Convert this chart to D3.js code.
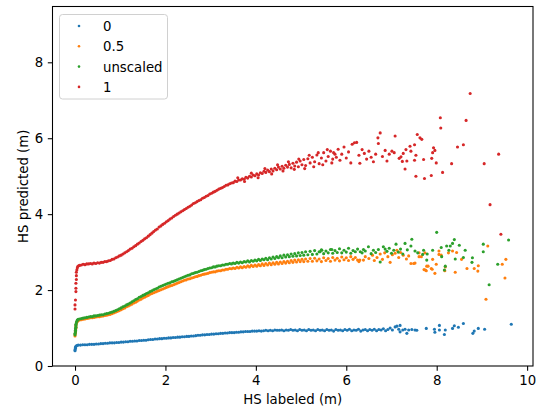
<!DOCTYPE html>
<html><head><meta charset="utf-8">
<script src="https://cdn.jsdelivr.net/npm/d3@7"></script>
<style>
html,body{margin:0;padding:0;background:#fff;}
text{font-family:"DejaVu Sans",sans-serif;}
</style></head>
<body><svg id="chart" width="543" height="408"></svg>
<script>
const seriesNames = ["0", "0.5", "unscaled", "1"];
const seriesColors = ["#1f77b4", "#ff7f0e", "#2ca02c", "#d62728"];
const xTicks = [0, 2, 4, 6, 8, 10];
const yTicks = [0, 2, 4, 6, 8];
const xLabel = "HS labeled (m)";
const yLabel = "HS predicted (m)";

const pts0 = [[0.00,0.40],[0.00,0.43],[0.01,0.46],[0.01,0.49],[0.02,0.52],[0.04,0.54],
[0.07,0.55],[0.12,0.55],[0.17,0.56],[0.22,0.56],[0.27,0.56],[0.32,0.57],[0.37,0.57],[0.42,0.57],[0.47,0.58],[0.52,0.58],[0.57,0.59],[0.62,0.59],[0.67,0.60],[0.72,0.60],[0.77,0.61],[0.82,0.61],[0.87,0.61],[0.92,0.62],[0.97,0.62],[1.02,0.63],[1.07,0.63],[1.12,0.64],[1.17,0.64],[1.22,0.65],[1.27,0.65],[1.32,0.66],[1.37,0.66],[1.42,0.67],[1.47,0.67],[1.52,0.68],[1.57,0.68],[1.62,0.69],[1.67,0.70],[1.72,0.70],[1.77,0.71],[1.82,0.71],[1.87,0.72],[1.92,0.72],[1.97,0.73],[2.02,0.73],[2.07,0.74],[2.12,0.74],[2.17,0.75],[2.22,0.75],[2.27,0.76],[2.32,0.76],[2.37,0.77],[2.42,0.77],[2.47,0.78],[2.52,0.78],[2.57,0.79],[2.62,0.79],[2.67,0.80],[2.72,0.81],[2.77,0.81],[2.82,0.82],[2.87,0.82],[2.92,0.83],[2.97,0.83],[3.02,0.84],[3.07,0.84],[3.12,0.85],[3.17,0.85],[3.22,0.86],[3.27,0.86],[3.32,0.87],[3.37,0.87],[3.42,0.88],[3.47,0.88],[3.52,0.88],[3.57,0.89],[3.62,0.89],[3.67,0.90],[3.72,0.90],[3.77,0.91],[3.82,0.91],[3.87,0.91],[3.92,0.92],[3.97,0.92],[4.02,0.92],[4.07,0.93],[4.12,0.92],[4.17,0.93],[4.22,0.94],[4.27,0.93],[4.32,0.94],[4.37,0.93],[4.42,0.95],[4.47,0.94],[4.52,0.94],[4.57,0.95],[4.62,0.93],[4.67,0.95],[4.72,0.94],[4.77,0.96],[4.82,0.94],[4.87,0.95],[4.92,0.93],[4.97,0.96],[5.02,0.94],[5.07,0.95],[5.12,0.93],[5.17,0.96],[5.22,0.94],[5.27,0.95],[5.32,0.93],[5.37,0.96],[5.42,0.94],[5.47,0.95],[5.52,0.93],[5.57,0.96],[5.62,0.94],[5.67,0.95],[5.72,0.92],[5.77,0.96],[5.82,0.94],[5.87,0.95],[5.92,0.93],[5.97,0.96],[6.02,0.94],[6.07,0.97],[6.12,0.93],[6.17,0.95],[6.22,0.94],[6.27,0.97],[6.32,0.92],[6.37,0.95],[6.42,0.96],[6.47,0.93],[6.52,0.96],[6.57,0.94],[6.62,0.97],[6.67,0.93],[6.72,0.96],[6.77,0.95],[6.82,0.98],[6.87,0.93],[6.92,0.96],[6.97,1.00],[7.02,0.95],[7.08,1.03],[7.12,1.05],[7.16,0.97],[7.19,1.07],[7.19,0.90],[7.25,0.95],[7.30,0.97],[7.34,0.86],[7.38,0.95],[7.45,0.96],[7.52,0.95],[7.56,0.94],
[7.77,0.99],[7.95,0.97],[7.96,0.89],[8.06,1.07],[8.06,0.95],[8.19,0.95],[8.17,0.83],[8.35,0.99],[8.39,1.06],[8.48,1.02],[8.59,1.12],[8.80,0.86],[8.83,0.92],[8.92,0.99],[9.06,0.97],[9.65,1.10]];

const pts05 = [[0.00,0.79],[0.00,0.83],[0.01,0.87],[0.01,0.91],[0.01,0.95],[0.02,0.99],[0.02,1.03],[0.02,1.07],[0.03,1.11],[0.04,1.15],[0.05,1.18],[0.07,1.20],
[0.10,1.21],[0.14,1.22],[0.18,1.23],[0.22,1.24],[0.26,1.25],[0.30,1.26],[0.34,1.27],[0.38,1.27],[0.42,1.28],[0.46,1.29],[0.50,1.30],[0.54,1.30],[0.58,1.31],[0.62,1.32],[0.66,1.33],[0.70,1.34],[0.74,1.35],[0.78,1.36],[0.82,1.38],[0.86,1.40],[0.90,1.42],[0.94,1.44],[0.98,1.46],[1.02,1.48],[1.06,1.51],[1.10,1.53],[1.14,1.56],[1.18,1.58],[1.22,1.61],[1.26,1.63],[1.30,1.66],[1.34,1.68],[1.38,1.71],[1.42,1.74],[1.46,1.76],[1.50,1.79],[1.54,1.81],[1.58,1.84],[1.62,1.86],[1.66,1.89],[1.70,1.91],[1.74,1.93],[1.78,1.95],[1.82,1.97],[1.86,1.99],[1.90,2.01],[1.94,2.03],[1.98,2.05],[2.02,2.07],[2.06,2.09],[2.10,2.11],[2.14,2.12],[2.18,2.14],[2.22,2.16],[2.26,2.18],[2.30,2.20],[2.34,2.22],[2.38,2.24],[2.42,2.26],[2.46,2.27],[2.50,2.29],[2.54,2.30],[2.58,2.32],[2.62,2.33],[2.66,2.35],[2.70,2.36],[2.74,2.38],[2.78,2.39],[2.82,2.41],[2.86,2.42],[2.90,2.43],[2.94,2.44],[2.98,2.46],[3.02,2.47],[3.06,2.48],[3.10,2.48],[3.14,2.50],[3.18,2.51],[3.22,2.51],[3.26,2.53],[3.30,2.53],[3.34,2.55],[3.38,2.55],[3.42,2.57],[3.46,2.56],[3.50,2.58],[3.54,2.57],[3.58,2.60],[3.62,2.58],[3.66,2.61],[3.70,2.59],[3.74,2.62],[3.78,2.60],[3.82,2.64],[3.86,2.61],[3.90,2.65],[3.94,2.62],[3.98,2.66],[4.02,2.63],[4.06,2.67],[4.10,2.64],[4.14,2.69],[4.18,2.65],[4.22,2.70],[4.26,2.66],[4.30,2.71],[4.34,2.67],[4.38,2.72],[4.42,2.68],[4.46,2.73],[4.50,2.69],[4.54,2.74],[4.58,2.70],[4.62,2.75],[4.66,2.71],[4.70,2.76],[4.74,2.72],[4.78,2.78],[4.82,2.73],[4.86,2.79],[4.90,2.74],[4.94,2.80],[4.98,2.75],[5.02,2.81],[5.06,2.75],[5.10,2.82],[5.15,2.76],[5.20,2.83],[5.25,2.76],[5.30,2.84],[5.35,2.77],[5.40,2.82],[5.45,2.75],[5.50,2.85],[5.55,2.78],[5.60,2.83],[5.65,2.76],[5.70,2.86],[5.75,2.79],[5.80,2.84],[5.85,2.77],[5.90,2.87],[5.95,2.80],[6.00,2.85],[6.05,2.78],[6.10,2.88],[6.15,2.81],[6.20,2.86],[6.25,2.79],
[6.30,2.79],[6.38,2.79],[6.28,2.75],[6.42,2.88],[6.50,2.83],[6.58,2.92],[6.62,2.78],[6.68,2.86],[6.75,2.95],[6.80,2.81],[6.85,2.98],[6.92,2.88],[6.97,2.73],[7.02,2.93],[7.08,2.97],[7.12,3.05],[7.16,2.86],[7.20,2.99],[7.26,2.92],[7.33,2.82],[7.38,2.90],[7.43,2.70],[7.49,2.70],[7.52,2.71],[7.61,2.98],[7.61,2.88],[7.66,2.88],[7.72,2.54],[7.74,2.98],[7.75,2.53],[7.77,2.51],[7.78,2.63],[7.81,2.63],[7.88,2.57],[7.90,2.55],[7.91,2.81],[7.96,2.44],[7.99,2.68],[8.05,3.03],[8.05,2.94],[8.10,2.92],[8.18,2.51],[8.19,2.61],[8.26,2.98],[8.35,3.03],[8.41,2.47],[8.44,2.99],[8.55,2.81],[8.67,2.57],[8.83,2.57],[8.91,2.50],[8.92,2.64],[9.09,1.76],[9.13,3.16],[9.45,2.68],[9.51,2.32],[9.53,2.81]];

const ptsUnscaled = [[0.00,0.82],[0.00,0.86],[0.01,0.90],[0.01,0.94],[0.01,0.98],[0.02,1.02],[0.02,1.06],[0.02,1.10],[0.03,1.14],[0.04,1.18],[0.05,1.21],[0.07,1.23],
[0.10,1.24],[0.14,1.25],[0.18,1.26],[0.22,1.27],[0.26,1.28],[0.30,1.29],[0.34,1.30],[0.38,1.30],[0.42,1.32],[0.46,1.32],[0.50,1.33],[0.54,1.34],[0.58,1.35],[0.62,1.35],[0.66,1.37],[0.70,1.38],[0.74,1.39],[0.78,1.41],[0.82,1.42],[0.86,1.44],[0.90,1.46],[0.94,1.48],[0.98,1.51],[1.02,1.53],[1.06,1.56],[1.10,1.58],[1.14,1.61],[1.18,1.63],[1.22,1.66],[1.26,1.69],[1.30,1.72],[1.34,1.75],[1.38,1.77],[1.42,1.81],[1.46,1.83],[1.50,1.86],[1.54,1.88],[1.58,1.91],[1.62,1.93],[1.66,1.96],[1.70,1.98],[1.74,2.01],[1.78,2.03],[1.82,2.05],[1.86,2.08],[1.90,2.10],[1.94,2.12],[1.98,2.14],[2.02,2.16],[2.06,2.18],[2.10,2.19],[2.14,2.22],[2.18,2.23],[2.22,2.25],[2.26,2.27],[2.30,2.29],[2.34,2.31],[2.38,2.33],[2.42,2.35],[2.46,2.37],[2.50,2.39],[2.54,2.40],[2.58,2.43],[2.62,2.44],[2.66,2.46],[2.70,2.47],[2.74,2.49],[2.78,2.51],[2.82,2.52],[2.86,2.54],[2.90,2.55],[2.94,2.57],[2.98,2.58],[3.02,2.59],[3.06,2.61],[3.10,2.61],[3.14,2.63],[3.18,2.64],[3.22,2.64],[3.26,2.66],[3.30,2.66],[3.34,2.68],[3.38,2.68],[3.42,2.70],[3.46,2.69],[3.50,2.71],[3.54,2.70],[3.58,2.73],[3.62,2.71],[3.66,2.74],[3.70,2.72],[3.74,2.75],[3.78,2.74],[3.82,2.77],[3.86,2.74],[3.90,2.78],[3.94,2.76],[3.98,2.79],[4.02,2.77],[4.06,2.81],[4.10,2.78],[4.14,2.82],[4.18,2.80],[4.22,2.84],[4.26,2.80],[4.30,2.85],[4.34,2.82],[4.38,2.87],[4.42,2.83],[4.46,2.88],[4.50,2.85],[4.54,2.90],[4.58,2.85],[4.62,2.92],[4.66,2.87],[4.70,2.93],[4.74,2.88],[4.78,2.95],[4.82,2.89],[4.86,2.96],[4.90,2.90],[4.94,2.98],[4.98,2.91],[5.02,2.99],[5.06,2.92],[5.10,3.01],[5.15,2.93],[5.20,3.02],[5.25,2.94],[5.30,3.04],[5.35,2.95],[5.40,3.01],[5.45,3.06],[5.50,2.96],[5.55,3.03],[5.60,2.98],[5.65,3.07],[5.70,2.97],[5.75,3.04],[5.80,2.99],[5.85,3.09],[5.90,2.98],[5.95,3.05],[6.00,3.00],[6.05,3.10],[6.10,2.97],[6.15,3.04],[6.20,3.01],[6.25,3.08],
[5.42,3.01],[5.46,3.05],[5.68,3.07],[6.31,3.01],[6.38,3.07],[6.49,3.14],[6.71,3.07],[6.82,3.14],[6.86,3.08],[6.75,2.74],[6.35,2.98],[6.42,3.03],[6.55,2.96],[6.60,3.05],[6.65,2.99],[6.90,3.02],[6.95,3.10],[7.00,2.97],[7.05,3.05],[7.10,3.21],[7.15,3.00],[7.20,3.08],[7.25,2.95],[7.30,3.23],[7.35,3.06],[7.43,3.16],[7.45,3.34],[7.52,3.03],[7.58,2.98],[7.69,2.94],[7.71,3.05],[7.78,2.79],[7.79,2.95],[7.91,3.05],[8.00,3.52],[8.10,3.12],[8.11,2.88],[8.17,2.53],[8.19,2.63],[8.22,3.16],[8.27,3.05],[8.30,3.16],[8.35,3.23],[8.39,3.33],[8.41,2.82],[8.50,3.18],[8.59,2.86],[8.63,3.05],[8.78,2.73],[8.79,2.85],[9.03,3.21],[9.03,3.01],[9.16,2.14],[9.35,2.68],[9.59,3.32]];

const pts1 = [[0.00,1.50],[0.00,1.61],[0.01,1.74],[0.02,1.96],[0.02,2.05],[0.02,2.18],[0.03,2.28],[0.03,2.38],[0.03,2.47],[0.04,2.53],[0.05,2.58],[0.06,2.62],[0.08,2.64],
[0.10,2.65],[0.14,2.66],[0.18,2.68],[0.22,2.67],[0.26,2.69],[0.30,2.69],[0.34,2.70],[0.38,2.69],[0.42,2.71],[0.46,2.70],[0.50,2.72],[0.54,2.71],[0.58,2.73],[0.62,2.73],[0.66,2.75],[0.70,2.75],[0.74,2.77],[0.78,2.78],[0.82,2.81],[0.86,2.82],[0.90,2.85],[0.94,2.87],[0.98,2.90],[1.02,2.92],[1.06,2.95],[1.10,2.98],[1.14,3.01],[1.18,3.04],[1.22,3.08],[1.26,3.10],[1.30,3.14],[1.34,3.17],[1.38,3.21],[1.42,3.24],[1.46,3.28],[1.50,3.31],[1.54,3.35],[1.58,3.38],[1.62,3.42],[1.66,3.46],[1.70,3.50],[1.74,3.54],[1.78,3.58],[1.82,3.61],[1.86,3.66],[1.90,3.69],[1.94,3.73],[1.98,3.76],[2.02,3.80],[2.06,3.83],[2.10,3.87],[2.14,3.90],[2.18,3.94],[2.22,3.97],[2.26,4.00],[2.30,4.03],[2.34,4.06],[2.38,4.09],[2.42,4.12],[2.46,4.15],[2.50,4.18],[2.54,4.21],[2.58,4.24],[2.62,4.28],[2.66,4.30],[2.70,4.33],[2.74,4.36],[2.78,4.38],[2.82,4.42],[2.86,4.44],[2.90,4.47],[2.94,4.49],[2.98,4.53],[3.02,4.55],[3.06,4.58],[3.10,4.60],[3.14,4.63],[3.18,4.66],[3.22,4.68],[3.26,4.70],[3.30,4.73],[3.34,4.76],[3.38,4.77],[3.42,4.80],[3.46,4.82],[3.50,4.83],[3.54,4.87],[3.58,4.86],[3.62,4.90],[3.66,4.90],[3.70,4.93],[3.74,4.92],[3.78,4.97],[3.82,4.95],[3.86,5.00],[3.90,4.98],[3.94,5.03],[3.98,5.01],[4.02,5.06],[4.06,5.03],[4.10,5.09],[4.14,5.07],[4.18,5.13],[4.22,5.10],[4.26,5.16],[4.30,5.12],[4.34,5.19],[4.38,5.14],[4.42,5.21],[4.46,5.17],[4.50,5.24],[4.54,5.19],[4.58,5.26],[4.62,5.21],[4.66,5.29],[4.70,5.24],[4.74,5.31],[4.78,5.22],[4.82,5.34],[4.86,5.27],[4.90,5.37],[4.94,5.25],[4.98,5.40],[5.02,5.30],[5.06,5.44],[5.10,5.28],[5.15,5.46],[5.20,5.35],[5.25,5.50],[5.30,5.38],[5.35,5.56],[5.40,5.33],[5.45,5.48],[5.50,5.62],[5.55,5.40],[5.60,5.52],[5.65,5.66],[5.70,5.45],[5.75,5.58],
[3.60,4.96],[3.75,4.86],[3.90,5.08],[4.05,4.96],[4.20,5.20],[4.35,5.06],[4.48,5.30],[4.60,5.14],[4.72,5.38],[4.85,5.18],[4.95,5.45],[5.08,5.20],[5.18,5.55],[5.28,5.25],[5.38,5.62],[5.48,5.30],[5.58,5.70],[5.68,5.35],
[5.72,5.62],[5.78,5.50],[5.82,5.71],[5.86,5.42],[5.90,5.58],[5.95,5.77],[6.00,5.48],[6.05,5.64],[6.10,5.35],[6.13,5.84],[6.18,5.88],[6.23,5.89],[6.28,5.55],[6.30,5.34],[6.35,5.70],[6.40,5.60],[6.45,5.45],[6.50,5.66],[6.55,5.50],[6.60,5.38],[6.65,5.58],[6.70,6.01],[6.71,5.86],[6.75,6.14],[6.80,5.52],[6.86,5.68],[6.90,5.40],[6.95,5.58],
[7.01,5.66],[7.06,5.62],[7.08,6.06],[7.17,5.47],[7.21,5.51],[7.24,5.39],[7.26,5.60],[7.30,5.19],[7.32,5.70],[7.34,5.40],[7.41,5.79],[7.43,5.66],[7.51,5.83],[7.51,5.42],[7.54,5.55],[7.54,5.00],[7.57,6.10],[7.63,6.01],[7.67,5.97],[7.71,5.44],[7.73,4.94],[7.88,5.02],[7.89,5.47],[7.91,5.62],[7.93,5.75],[7.96,5.68],[7.99,5.35],[8.08,6.54],[8.09,6.27],[8.13,5.10],[8.33,5.33],[8.46,5.77],[8.59,5.83],[8.65,6.47],[8.74,7.18],[9.05,5.33],[9.18,4.25],[9.37,5.58],[9.42,3.47]];

const seriesPoints = [pts0, pts05, ptsUnscaled, pts1];

const mLeft = 52.5, mRight = 533, mTop = 6.5, mBottom = 366;
const svg = d3.select("#chart");

const x = d3.scaleLinear().domain([-0.498, 10.13]).range([mLeft, mRight]);
const y = d3.scaleLinear().domain([0, 9.47]).range([mBottom, mTop]);
const R = 1.55;

// points
seriesPoints.forEach((pts, i) => {
  svg.append("g").selectAll("circle").data(pts).join("circle")
    .attr("cx", d => x(d[0])).attr("cy", d => y(d[1]))
    .attr("r", R).attr("fill", seriesColors[i]);
});

// axes
const fs = "13.3px";
const xAxis = svg.append("g").attr("transform", `translate(0,${mBottom})`)
  .call(d3.axisBottom(x).tickValues(xTicks).tickSize(4.7).tickSizeOuter(0).tickPadding(4.5).tickFormat(d3.format("d")));
const yAxis = svg.append("g").attr("transform", `translate(${mLeft},0)`)
  .call(d3.axisLeft(y).tickValues(yTicks).tickSize(4.7).tickSizeOuter(0).tickPadding(4.5).tickFormat(d3.format("d")));
[xAxis, yAxis].forEach(a => {
  a.select(".domain").remove();
  a.selectAll(".tick line").attr("stroke", "#000").attr("stroke-width", 1.07);
  a.selectAll(".tick text").attr("fill", "#000").style("font-size", fs).style("font-family", "DejaVu Sans");
});

// frame
svg.append("rect").attr("x", mLeft).attr("y", mTop).attr("width", mRight - mLeft).attr("height", mBottom - mTop)
  .attr("fill", "none").attr("stroke", "#000").attr("stroke-width", 1.07);

// labels
svg.append("text").attr("x", (mLeft + mRight) / 2).attr("y", 404).attr("text-anchor", "middle")
  .style("font-size", fs).attr("fill", "#000").text(xLabel);
svg.append("text").attr("transform", `translate(23,${(mTop + mBottom) / 2}) rotate(-90)`)
  .attr("text-anchor", "middle").attr("dominant-baseline", "central")
  .style("font-size", fs).attr("fill", "#000").text(yLabel);

// legend
const lg = svg.append("g");
lg.append("rect").attr("x", 59.5).attr("y", 14.5).attr("width", 108).attr("height", 84.5)
  .attr("rx", 3).attr("fill", "#fff").attr("fill-opacity", 0.8).attr("stroke", "#d0d0d0").attr("stroke-width", 1);
seriesNames.forEach((name, i) => {
  const cy = 26 + i * 20.3;
  lg.append("circle").attr("cx", 79).attr("cy", cy).attr("r", 1.3).attr("fill", seriesColors[i]);
  lg.append("text").attr("x", 103).attr("y", cy + 5).style("font-size", fs).attr("fill", "#000").text(name);
});
</script></body></html>
